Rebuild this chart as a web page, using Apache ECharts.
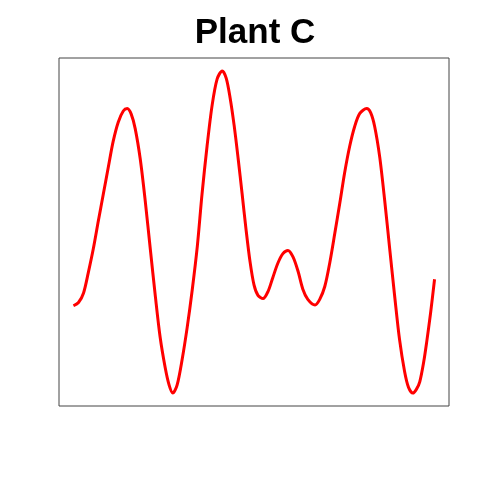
<!DOCTYPE html>
<html>
<head>
<meta charset="utf-8">
<script src="https://cdn.jsdelivr.net/npm/echarts@6/dist/echarts.min.js"></script>
<style>html,body{margin:0;padding:0;background:#fff}#c{width:480px;height:480px}</style>
</head>
<body>
<div id="c"></div>
<script>
const titleText = "Plant C";
const xValues = [
  0, 0.14, 0.28, 0.41, 0.55, 0.69, 0.83, 0.97, 1.10, 1.24, 1.38, 1.49,
  1.60, 1.71, 1.85, 1.99, 2.13, 2.27, 2.40, 2.54, 2.65, 2.75,
  2.87, 3.01, 3.15, 3.29, 3.43, 3.56, 3.70, 3.84, 3.98, 4.12,
  4.23, 4.34, 4.45, 4.56, 4.67, 4.78, 4.89, 5.00, 5.11, 5.25,
  5.39, 5.52, 5.66, 5.80, 5.94, 6.08, 6.22, 6.35, 6.49, 6.69,
  6.82, 6.96, 7.10, 7.24, 7.38, 7.51, 7.65, 7.79, 7.93, 8.12,
  8.23, 8.34, 8.48, 8.62, 8.76, 8.90, 9.03, 9.17, 9.28, 9.40,
  9.50, 9.59, 9.70, 9.78, 9.89, 10.00
];
const yValues = [
  -0.92, -0.88, -0.76, -0.51, -0.21, 0.14, 0.48, 0.82, 1.13, 1.37, 1.51, 1.54,
  1.47, 1.29, 0.91, 0.38, -0.22, -0.81, -1.31, -1.69, -1.91, -2.01,
  -1.91, -1.59, -1.19, -0.72, -0.18, 0.47, 1.07, 1.58, 1.91, 2.01,
  1.92, 1.67, 1.33, 0.92, 0.48, 0.03, -0.37, -0.66, -0.79, -0.83,
  -0.74, -0.57, -0.39, -0.27, -0.23, -0.31, -0.49, -0.71, -0.84, -0.91,
  -0.84, -0.68, -0.38, -0.01, 0.37, 0.74, 1.07, 1.32, 1.48, 1.54,
  1.49, 1.32, 0.94, 0.39, -0.22, -0.82, -1.34, -1.74, -1.94, -2.01,
  -1.96, -1.87, -1.62, -1.38, -1.01, -0.59
];

const xMin = Math.min(...xValues), xMax = Math.max(...xValues);
const yMin = Math.min(...yValues), yMax = Math.max(...yValues);
const xPad = (xMax - xMin) * 0.04, yPad = (yMax - yMin) * 0.04;

const chart = echarts.init(document.getElementById('c'), null, {renderer: 'canvas'});
const hiddenAxis = {
  axisLine: {show: false}, axisTick: {show: false},
  axisLabel: {show: false}, splitLine: {show: false}
};
chart.setOption({
  animation: false,
  backgroundColor: '#ffffff',
  graphic: [{
    type: 'text', x: 255, y: 33, silent: true,
    style: {
      text: titleText, fill: '#000',
      font: 'bold 35px "Liberation Sans", Arial, sans-serif',
      align: 'center', verticalAlign: 'middle'
    }
  }],
  grid: {
    left: 59, right: 31, top: 58, bottom: 74,
    show: true, borderColor: '#444', borderWidth: 1, backgroundColor: 'transparent'
  },
  xAxis: Object.assign({type: 'value', min: xMin - xPad, max: xMax + xPad}, hiddenAxis),
  yAxis: Object.assign({type: 'value', min: yMin - yPad, max: yMax + yPad}, hiddenAxis),
  series: [{
    type: 'line',
    data: xValues.map((x, i) => [x, yValues[i]]),
    smooth: 0.3,
    showSymbol: false,
    lineStyle: {color: '#ff0000', width: 3}
  }]
});
</script>
</body>
</html>
